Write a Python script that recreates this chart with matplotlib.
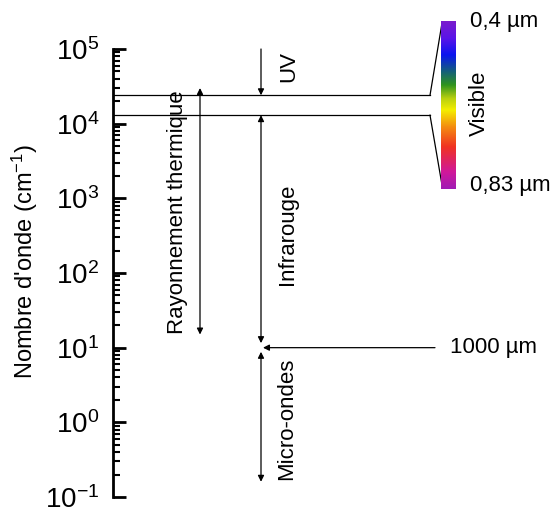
import numpy as np
import matplotlib
matplotlib.use("Agg")
import matplotlib.pyplot as plt
from matplotlib.colors import LinearSegmentedColormap

plt.rcParams['font.family'] = ['Liberation Sans', 'DejaVu Sans']
plt.rcParams['mathtext.fontset'] = 'custom'
plt.rcParams['mathtext.rm'] = 'Liberation Sans'
plt.rcParams['mathtext.it'] = 'Liberation Sans:italic'
plt.rcParams['mathtext.bf'] = 'Liberation Sans:bold'

# wavenumbers (cm^-1)
y_min, y_max = 1e-1, 1e5
visible_top = 2.4e4      # 0,4 um
visible_bottom = 1.3e4   # 0,83 um
thermal_range = (3.0e4, 1.5e1)
ir_range = (visible_bottom, 1.15e1)
micro_range = (0.88e1, 1.6e-1)
uv_range = (y_max, visible_top)
mm_line = 1.0e1          # 1000 um

decade_ticks = [1e-1, 1e0, 1e1, 1e2, 1e3, 1e4, 1e5]
decade_labels = ['$10^{-1}$', '$10^{0}$', '$10^{1}$', '$10^{2}$',
                 '$10^{3}$', '$10^{4}$', '$10^{5}$']

# spectrum colours, top (violet) to bottom
spectrum_pos = [0.0, 0.1, 0.2, 0.3, 0.38, 0.46, 0.53, 0.63, 0.75, 0.9, 1.0]
spectrum_col = ['#7a1ccc', '#5a14e8', '#0a14f0', '#14607a', '#30941e',
                '#b8d010', '#f4ee00', '#f48c10', '#f03222', '#d0189a', '#a01cb4']

W, H = 550, 516
fig = plt.figure(figsize=(W / 100, H / 100), dpi=100)
ax = fig.add_axes([113 / W, 1 - 497 / H, (W - 113) / W, (497 - 49) / H])
ax.set_yscale('log')
ax.set_xlim(113, W)
ax.set_ylim(y_min, y_max)

for s in ['top', 'right', 'bottom']:
    ax.spines[s].set_visible(False)
ax.spines['left'].set_linewidth(2)
ax.set_xticks([])
ax.set_yticks(decade_ticks)
ax.set_yticklabels(decade_labels)
ax.tick_params(axis='y', which='major', direction='in', length=9, width=2,
               labelsize=20, pad=10)
ax.tick_params(axis='y', which='minor', direction='in', length=5, width=1.5)
fig.text(25 / W, 1 - 262 / H, "Nombre d'onde (cm$^{-1}$)", fontsize=17,
         rotation=90, ha='center', va='center')

lw = 0.9
# visible band boundaries
ax.plot([113, 430], [visible_top, visible_top], color='black', lw=lw)
ax.plot([113, 430], [visible_bottom, visible_bottom], color='black', lw=lw)

# colour bar for the visible band
bar_l, bar_r, bar_t, bar_b = 441, 455, 21, 189
cax = fig.add_axes([bar_l / W, 1 - bar_b / H, (bar_r - bar_l) / W, (bar_b - bar_t) / H])
cmap = LinearSegmentedColormap.from_list('vis', list(zip(spectrum_pos, spectrum_col)))
cax.imshow(np.linspace(0, 1, 256).reshape(-1, 1), aspect='auto', cmap=cmap,
           extent=[0, 1, 1, 0])
cax.axis('off')

# connector lines from the band to the colour bar
inv = ax.transData.inverted()
y_bar_top = inv.transform(fig.transFigure.transform((0, 1 - (bar_t + 2) / H)))[1]
y_bar_bot = inv.transform(fig.transFigure.transform((0, 1 - (bar_b - 4) / H)))[1]
ax.plot([430, bar_l + 1], [visible_top, y_bar_top], color='black', lw=lw, clip_on=False)
ax.plot([430, bar_l + 1], [visible_bottom, y_bar_bot], color='black', lw=lw, clip_on=False)


def arrow(x0, y0, x1, y1, style):
    ax.annotate('', xy=(x1, y1), xytext=(x0, y0),
                arrowprops=dict(arrowstyle=style, color='black', lw=lw,
                                shrinkA=0, shrinkB=0,
                                mutation_scale=9), annotation_clip=False)


x_main = 261
x_therm = 200
arrow(x_main, uv_range[0], x_main, uv_range[1], '-|>')
arrow(x_therm, thermal_range[0], x_therm, thermal_range[1], '<|-|>')
arrow(x_main, ir_range[0], x_main, ir_range[1], '<|-|>')
arrow(x_main, micro_range[0], x_main, micro_range[1], '<|-|>')
arrow(435, mm_line, x_main + 2, mm_line, '-|>')

fs = 16
ax.text(289, 10 ** 4.77, 'UV', rotation=90, fontsize=fs, ha='center', va='center')
ax.text(178, 10 ** 2.82, 'Rayonnement thermique', rotation=90, fontsize=fs,
        ha='center', va='center')
ax.text(287, 10 ** 2.52, 'Infrarouge', rotation=90, fontsize=fs, ha='center', va='center')
ax.text(287, 10 ** 0.05, 'Micro-ondes', rotation=90, fontsize=fs, ha='center', va='center')
ax.text(450, mm_line, '1000 µm', fontsize=fs, ha='left', va='center')

fig.text(470 / W, 1 - 22 / H, '0,4 µm', fontsize=fs, ha='left', va='center')
fig.text(470 / W, 1 - 186 / H, '0,83 µm', fontsize=fs, ha='left', va='center')
fig.text(479 / W, 1 - 103 / H, 'Visible', rotation=90, fontsize=fs,
         ha='center', va='center')

fig.savefig('out.png', dpi=100)
